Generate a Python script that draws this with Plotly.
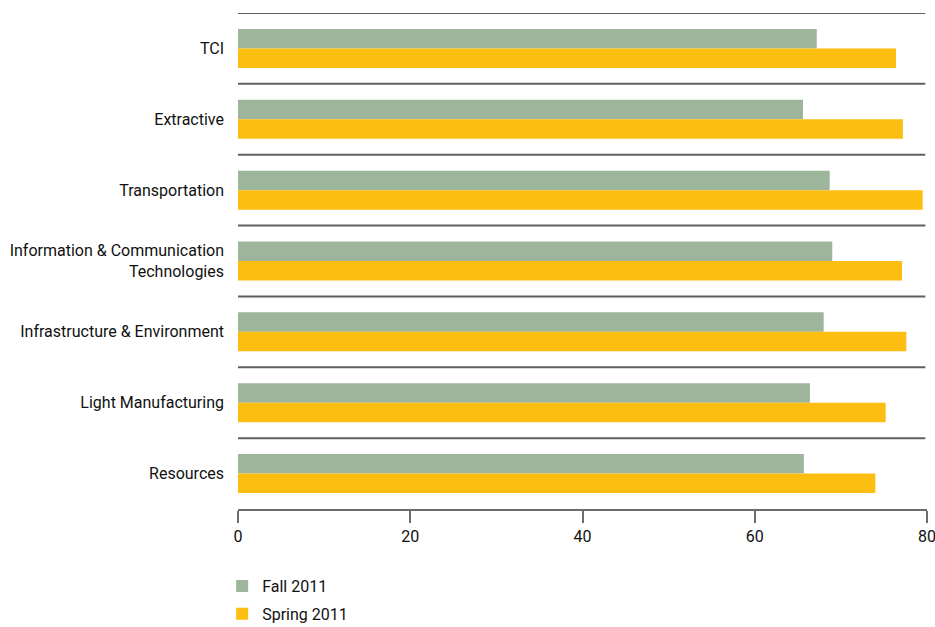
import plotly.graph_objects as go

categories = [
    "TCI",
    "Extractive",
    "Transportation",
    "Information & Communication<br>Technologies",
    "Infrastructure & Environment",
    "Light Manufacturing",
    "Resources",
]
fall_2011 = [67.2, 65.6, 68.7, 69.0, 68.0, 66.4, 65.7]
spring_2011 = [76.4, 77.2, 79.5, 77.1, 77.6, 75.2, 74.0]
x_ticks = [0, 20, 40, 60, 80]

FONT = "Roboto, Open Sans, sans-serif"
GREEN = "#9DB59A"
YELLOW = "#FCBE10"

fig = go.Figure()
fig.add_trace(go.Bar(y=categories, x=fall_2011, orientation="h", legendgroup="fall",
                     name="Fall 2011", marker=dict(color=GREEN, line_width=0)))
fig.add_trace(go.Bar(y=categories, x=spring_2011, orientation="h", legendgroup="spring",
                     name="Spring 2011", marker=dict(color=YELLOW, line_width=0)))

# separator rules between categories
for k in range(len(categories)):
    fig.add_shape(type="line", xref="x", yref="y",
                  x0=0, x1=79.8, y0=k - 0.5, y1=k - 0.5,
                  line=dict(color="#5f5f5f", width=2), layer="above")

fig.update_layout(
    width=935, height=627,
    margin=dict(l=238, r=8, t=13, b=118, autoexpand=False),
    paper_bgcolor="white", plot_bgcolor="white",
    barmode="group", bargap=0.45, bargroupgap=0,
    font=dict(family=FONT, size=16, color="#111111"),
    showlegend=True,
    legend=dict(x=-0.023, xanchor="left", y=-0.121, yanchor="top",
                orientation="v", font=dict(size=16), traceorder="grouped",
                tracegroupgap=4, bgcolor="rgba(0,0,0,0)"),
)
fig.update_xaxes(range=[0, 80], tickvals=x_ticks, showgrid=False, zeroline=False,
                 showline=True, linecolor="#6b6b6b", linewidth=2,
                 ticks="outside", ticklen=12, tickcolor="#6b6b6b", tickwidth=1.5,
                 ticklabeloverflow="allow", ticklabelstandoff=0, automargin=False,
                 tickfont=dict(size=16), fixedrange=True)
fig.update_yaxes(range=[6.5, -0.5], showgrid=False, zeroline=False, showline=False,
                 ticks="", ticklabelstandoff=13, automargin=False,
                 tickfont=dict(size=16))

fig.write_html("out.html")
